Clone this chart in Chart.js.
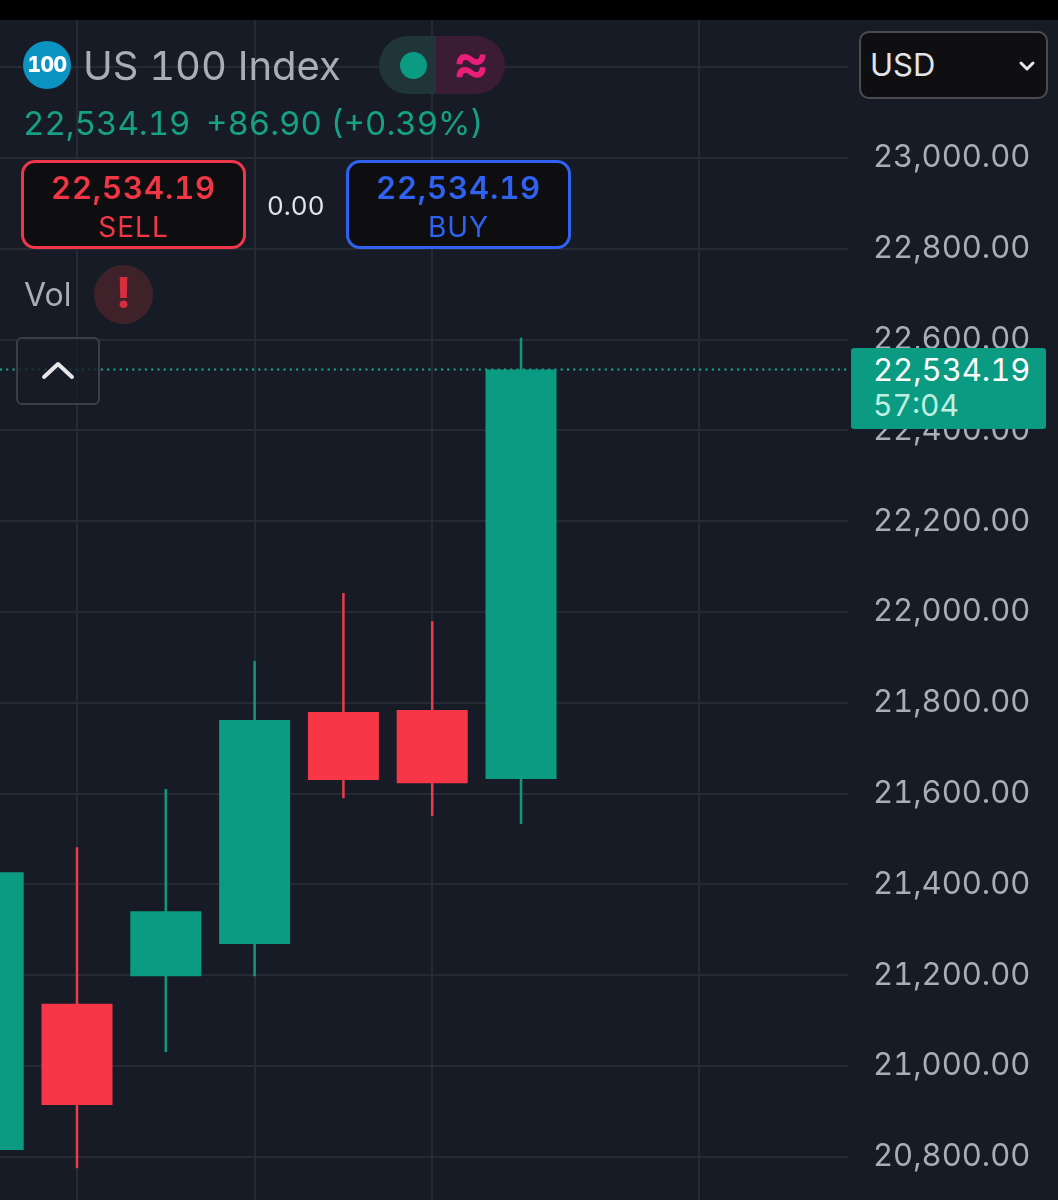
<!DOCTYPE html>
<html>
<head>
<meta charset="utf-8">
<title>US 100 Index</title>
<script src="https://cdn.jsdelivr.net/npm/chart.js@4"></script>
<style>
html,body{margin:0;padding:0;background:#000;width:1058px;height:1200px;overflow:hidden}
body{position:relative;font-family:Inter,"Noto Sans",sans-serif;font-feature-settings:"tnum" 1}
canvas{position:absolute;left:0;top:0}
.t{position:absolute;white-space:nowrap;line-height:1}
.box{position:absolute;box-sizing:border-box}
</style>
</head>
<body>
<canvas id="c" width="1058" height="1200"></canvas>

<div class="box" style="left:23px;top:41px;width:48px;height:48px;border-radius:50%;background:#0b93c1"></div>
<div class="t" style="left:23px;width:48px;top:54px;text-align:center;font-size:21px;font-weight:800;color:#fff;letter-spacing:-.5px">100</div>
<div class="t" id="name" style="left:83px;top:46px;font-size:40px;color:#a9adb8">US 100 Index</div>

<div class="box" style="left:379px;top:36px;width:57px;height:58px;border-radius:29px 0 0 29px;background:#1f3538"></div>
<div class="box" style="left:436px;top:36px;width:69px;height:58px;border-radius:0 29px 29px 0;background:#3a1c34"></div>
<div class="box" style="left:400px;top:52px;width:27px;height:27px;border-radius:50%;background:#0a9b82"></div>
<div class="t" style="left:436px;width:70px;top:34px;text-align:center;font-size:56px;font-weight:600;color:#e91e78">≈</div>

<div class="t" style="left:23px;top:107px;font-size:33px;color:#16a085">22,534.19</div>
<div class="t" style="left:206px;top:107px;font-size:33px;color:#16a085">+86.90 (+0.39%)</div>

<div class="box" style="left:21px;top:160px;width:225px;height:89px;border:3px solid #f0364a;border-radius:14px;background:#0e0e10"></div>
<div class="t" style="left:21px;width:225px;top:172px;text-align:center;font-size:31px;font-weight:600;color:#f23645;letter-spacing:.9px">22,534.19</div>
<div class="t" style="left:21px;width:225px;top:213px;text-align:center;font-size:28px;color:#f23645;letter-spacing:1px">SELL</div>

<div class="t" style="left:267px;top:193px;font-size:26px;color:#e3e4e8">0.00</div>

<div class="box" style="left:346px;top:160px;width:225px;height:89px;border:3px solid #2f62f0;border-radius:14px;background:#0e0e10"></div>
<div class="t" style="left:346px;width:225px;top:172px;text-align:center;font-size:31px;font-weight:600;color:#2f62f0;letter-spacing:.9px">22,534.19</div>
<div class="t" style="left:346px;width:225px;top:213px;text-align:center;font-size:28px;color:#2f62f0;letter-spacing:1px">BUY</div>

<div class="t" style="left:24px;top:279px;font-size:32px;color:#a9adb8">Vol</div>
<div class="box" style="left:94px;top:265px;width:59px;height:59px;border-radius:50%;background:#3f2229"></div>
<div class="t" style="left:94px;width:59px;top:272px;text-align:center;font-size:42px;font-weight:800;color:#d62d3f">!</div>

<div class="box" style="left:16px;top:337px;width:84px;height:68px;border:2px solid #3c3f47;border-radius:6px;background:rgba(23,27,38,.8)"></div>
<svg class="box" style="left:40px;top:358px" width="36" height="24"><polyline points="4,19 18,6 32,19" fill="none" stroke="#e6e6e8" stroke-width="4" stroke-linecap="round" stroke-linejoin="round"/></svg>

<div class="box" style="left:859px;top:31px;width:189px;height:68px;border:2px solid #4a4c52;border-radius:10px;background:#0f0f11"></div>
<div class="t" style="left:870px;top:49px;font-size:31px;color:#e3e4e8">USD</div>
<svg class="box" style="left:1018px;top:60px" width="18" height="14"><polyline points="3,3 9,9 15,3" fill="none" stroke="#e6e6e8" stroke-width="3" stroke-linecap="round" stroke-linejoin="round"/></svg>

<div class="box" style="left:851px;top:348px;width:195px;height:81px;border-radius:3px;background:#0a9b82"></div>
<div class="t" style="left:873px;top:354px;font-size:31px;color:#fff">22,534.19</div>
<div class="t" style="left:873px;top:390px;font-size:30px;color:#bff0e2">57:04</div>

<script>
const positions = [0, 1, 2, 3, 4, 5, 6];
const opens  = [20815, 21137, 21198, 21269, 21780, 21784, 21632];
const closes = [21427, 20914, 21341, 21762, 21630, 21623, 22534.19];
const highs  = [21560, 21482, 21610, 21892, 22042, 21980, 22604];
const lows   = [20760, 20775, 21031, 21198, 21590, 21551, 21533];
const lastPrice = 22534.19;
const priceTicks = [23200, 23000, 22800, 22600, 22400, 22200, 22000, 21800, 21600, 21400, 21200, 21000, 20800];
const timeGrid = [1, 3, 5, 8];

const UP = '#0a9b82', DOWN = '#f73648';
const colors = opens.map((o, i) => closes[i] >= o ? UP : DOWN);
const wickColors = opens.map((o, i) => closes[i] >= o ? '#12977f' : '#ee3a4c');
const xMin = 0.133, xMax = 9.682;

const bgPlugin = {
  id: 'bg',
  beforeDraw(chart) {
    const g = chart.ctx;
    g.save();
    g.fillStyle = '#000';
    g.fillRect(0, 0, chart.width, chart.height);
    g.fillStyle = '#171b26';
    g.fillRect(0, chart.chartArea.top, chart.width, chart.height - chart.chartArea.top);
    g.restore();
  }
};

function flush(s) {
  s.paddingTop = 0; s.paddingBottom = 0; s.paddingLeft = 0; s.paddingRight = 0;
}

new Chart(document.getElementById('c'), {
  type: 'bar',
  plugins: [bgPlugin],
  data: {
    datasets: [
      {
        type: 'line',
        data: [{ x: xMin, y: lastPrice }, { x: xMax, y: lastPrice }],
        borderColor: '#17b096',
        borderWidth: 2,
        borderDash: [2, 4.3],
        pointRadius: 0,
        order: 3
      },
      {
        data: positions.map((p, i) => ({ x: p, y: [lows[i], highs[i]] })),
        backgroundColor: wickColors,
        barThickness: 2.5,
        inflateAmount: 0,
        grouped: false,
        order: 2
      },
      {
        data: positions.map((p, i) => ({ x: p, y: [opens[i], closes[i]] })),
        backgroundColor: colors,
        barThickness: 71,
        inflateAmount: 0,
        grouped: false,
        order: 1
      }
    ]
  },
  options: {
    responsive: false,
    animation: false,
    devicePixelRatio: 1,
    layout: { padding: { top: 20, left: 0, right: 0, bottom: 0 } },
    plugins: { legend: { display: false }, tooltip: { enabled: false } },
    scales: {
      x: {
        type: 'linear',
        min: xMin,
        max: xMax,
        offset: false,
        afterBuildTicks(s) { s.ticks = timeGrid.map(v => ({ value: v })); },
        afterFit(s) { s.height = 0; flush(s); },
        ticks: { display: false },
        border: { display: false },
        grid: { color: '#262a35', lineWidth: 2, drawTicks: false, offset: false }
      },
      y: {
        position: 'right',
        min: 20705,
        max: 23304,
        afterBuildTicks(s) { s.ticks = priceTicks.map(v => ({ value: v })); },
        afterFit(s) { s.width = 210; flush(s); },
        border: { display: false },
        grid: { color: '#262a35', lineWidth: 2, drawTicks: false },
        ticks: {
          padding: 25,
          color: '#a9adb8',
          font: { family: 'Inter', size: 31 },
          align: 'center',
          crossAlign: 'near',
          callback(v) {
            if (v === 23200) return '';
            return v.toLocaleString('en-US', { minimumFractionDigits: 2, maximumFractionDigits: 2 });
          }
        }
      }
    }
  }
});
</script>
</body>
</html>
